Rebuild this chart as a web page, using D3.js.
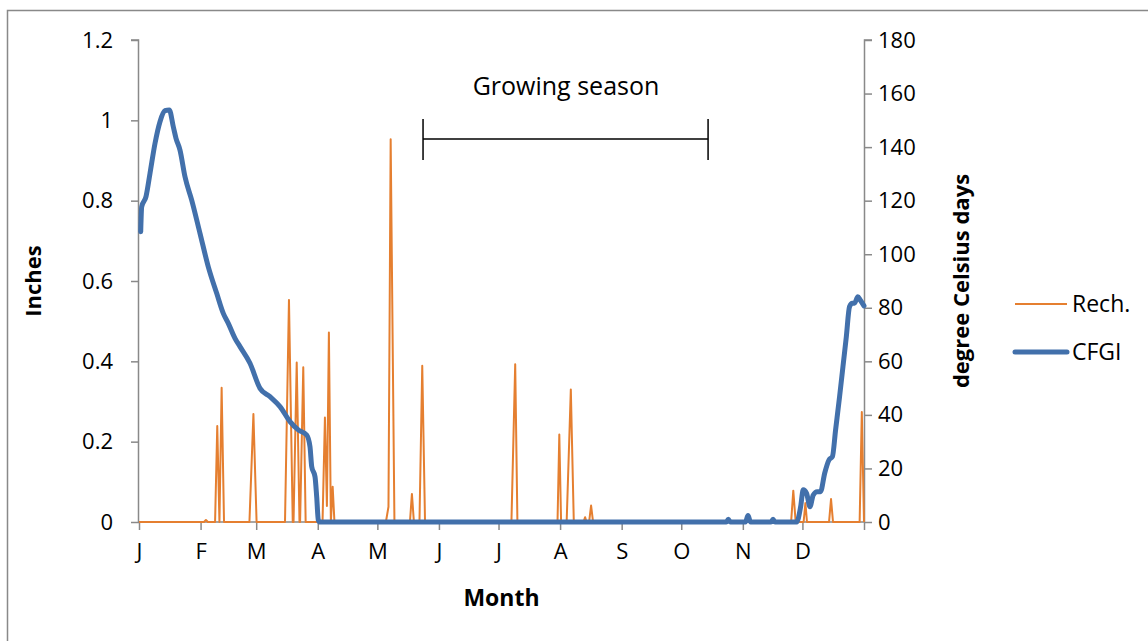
<!DOCTYPE html>
<html><head><meta charset="utf-8">
<script src="https://cdn.jsdelivr.net/npm/d3@7"></script>
<style>
html,body{margin:0;padding:0;background:#fff;}
svg text{font-family:"Open Sans",Lato,sans-serif;fill:#000;}
</style></head>
<body><svg id="c" width="1148" height="641"></svg>
<script>
// ---- data (day of year) ----
const monthLabels = ["J","F","M","A","M","J","J","A","S","O","N","D"];
const monthStartDays = [0,31,59,90,120,151,181,212,243,273,304,334];
const leftTicks = [0,0.2,0.4,0.6,0.8,1.0,1.2];
const rightTicks = [0,20,40,60,80,100,120,140,160,180];

// Recharge (inches), day and value
const rechDays = [0,32.7,33.7,34.7,38.3,39.4,40.5,41.6,42.8,55.6,57.6,59.2,73.5,75.5,77.4,77.8,79.4,80.8,81.1,82.7,83.9,92.4,93.6,94.6,95.6,96.6,97.5,98.4,124.3,125.6,126.7,128.6,136.4,137.4,138.4,141.2,142.6,144.0,187.5,189.4,190.5,191.6,210.7,211.6,212.5,215.3,217.4,218.9,223.8,224.6,225.3,226.6,227.6,228.6,328.3,329.4,330.6,334.6,335.5,336.3,347.4,348.4,349.4,362.8,363.9,365];
const rechValues = [0,0,0.005,0,0,0.239,0,0.334,0,0,0.269,0,0,0.553,0,0,0.397,0,0,0.385,0,0,0.26,0.04,0.472,0,0.088,0,0,0.038,0.953,0,0,0.07,0,0,0.389,0,0,0.393,0.005,0,0,0.218,0,0,0.33,0,0,0.012,0,0,0.041,0,0,0.078,0,0,0.047,0,0,0.057,0,0,0.274,0];

// CFGI (degree Celsius days)
const cfgiDays = [0.86,1.36,3.52,5.54,8.06,10.57,13.09,15.25,17.27,18.63,20.64,23.16,26.53,30.71,34.89,39.12,42.44,44.96,48.33,50.85,55.88,60.92,65.95,70.99,76.02,80.2,84.43,86.09,86.95,88.61,89.46,90.27,91.1,295.7,296.7,297.7,305.3,306.6,307.9,318.2,319.2,320.2,331.1,333.1,334.4,336.1,337.8,339.4,341.4,343.1,345.2,347.4,349.1,350.7,352.7,354.4,356.1,357.7,359.1,360.2,361.9,363.1,365];
const cfgiValues = [108.4,117.7,121.5,130.2,141.4,149.5,153.6,153.9,147.6,143.3,138.9,128.9,120.2,107.8,95.3,85.4,77.9,74.2,68.6,65.5,59.3,49.9,46.8,43.1,37.5,34.4,32.5,28.1,20.7,16.9,9.4,0.7,0,0,1,0,0,2.4,0,0,1,0,0,5.7,12,10.7,5.7,10,11.3,11.3,18.2,23.2,24.4,34.4,46.8,58,69.2,80.4,81.7,81.7,84.1,82.9,80.7];

const growingSeason = [143, 286.5];

// ---- drawing ----
const svg = d3.select("#c");
const L = 139, R = 864, T = 40, B = 522;
const x = d3.scaleLinear().domain([0,365]).range([L,R]);
const yL = d3.scaleLinear().domain([0,1.2]).range([B,T]);
const yR = d3.scaleLinear().domain([0,180]).range([B,T]);
const grey = "#898989";
const orange = "#E57F30";
const blue = "#4270AB";
const FONT = "'Open Sans', Lato, sans-serif";

// outer frame
svg.append("rect").attr("x",7.5).attr("y",10.5).attr("width",1160).attr("height",660)
  .attr("fill","none").attr("stroke",grey).attr("stroke-width",1.5);

// left axis
const gl = svg.append("g").attr("transform",`translate(${L},0)`)
  .call(d3.axisLeft(yL).tickValues(leftTicks).tickSize(8).tickPadding(18)
        .tickFormat(d=>d===0?"0":d3.format("")(+d.toFixed(1))));
// right axis
const gr = svg.append("g").attr("transform",`translate(${R},0)`)
  .call(d3.axisRight(yR).tickValues(rightTicks).tickSize(8).tickPadding(6));
// bottom axis
const monthTickDays = monthStartDays.concat([365]);
const gb = svg.append("g").attr("transform",`translate(0,${B})`)
  .call(d3.axisBottom(x).tickValues(monthTickDays).tickSize(8).tickPadding(13)
        .tickFormat((d,i)=> i<12 ? monthLabels[i] : ""));
[gl,gr,gb].forEach(g=>{
  g.selectAll("path.domain").attr("stroke",grey).attr("stroke-width",1.5);
  g.selectAll(".tick line").attr("stroke",grey).attr("stroke-width",1.5);
  g.selectAll(".tick text").attr("font-size",22).attr("font-family",FONT).attr("fill","#000");
});
gl.selectAll("path.domain").attr("d",`M-0.5,${B}V${T}H-8`);
gr.selectAll("path.domain").attr("d",`M0.5,${B}V${T}H8`);
gb.selectAll("path.domain").attr("d",`M${L},0H${R}`);

// recharge line
const rechPts = rechDays.map((d,i)=>[d,rechValues[i]]);
svg.append("path").datum(rechPts)
  .attr("d",d3.line().x(d=>x(d[0])).y(d=>yL(d[1])))
  .attr("fill","none").attr("stroke",orange).attr("stroke-width",2).attr("stroke-linejoin","round");

// CFGI line
const cfgiPts = cfgiDays.map((d,i)=>[d,cfgiValues[i]]);
svg.append("path").datum(cfgiPts)
  .attr("d",d3.line().x(d=>x(d[0])).y(d=>yR(d[1])).curve(d3.curveMonotoneX))
  .attr("fill","none").attr("stroke",blue).attr("stroke-width",5).attr("stroke-linejoin","round").attr("stroke-linecap","round");

// growing season bracket
const gsY = 139;
svg.append("line").attr("x1",x(growingSeason[0])).attr("x2",x(growingSeason[1])).attr("y1",gsY).attr("y2",gsY)
  .attr("stroke","#000").attr("stroke-width",1.5);
growingSeason.forEach(d=>{
  svg.append("line").attr("x1",x(d)).attr("x2",x(d)).attr("y1",gsY-20).attr("y2",gsY+21)
    .attr("stroke","#000").attr("stroke-width",1.5);
});
svg.append("text").attr("x",566).attr("y",95)
  .attr("text-anchor","middle").attr("font-size",25).text("Growing season");

// axis titles
svg.append("text").attr("x",(L+R)/2).attr("y",606).attr("text-anchor","middle")
  .attr("font-size",23).attr("font-weight","bold").text("Month");
svg.append("text").attr("transform",`translate(41,${(T+B)/2}) rotate(-90)`).attr("text-anchor","middle")
  .attr("font-size",22).attr("font-weight","bold").text("Inches");
svg.append("text").attr("transform",`translate(969,${(T+B)/2}) rotate(-90)`).attr("text-anchor","middle")
  .attr("font-size",22).attr("font-weight","bold").text("degree Celsius days");

// legend
const legend = [["Rech.",orange,2,304],["CFGI",blue,5,352]];
legend.forEach(([name,col,w,yy])=>{
  svg.append("line").attr("x1",1015).attr("x2",1067).attr("y1",yy).attr("y2",yy)
    .attr("stroke",col).attr("stroke-width",w).attr("stroke-linecap",w>2?"round":"butt");
  svg.append("text").attr("x",1072).attr("y",yy+8).attr("font-size",23).text(name);
});
</script></body></html>
